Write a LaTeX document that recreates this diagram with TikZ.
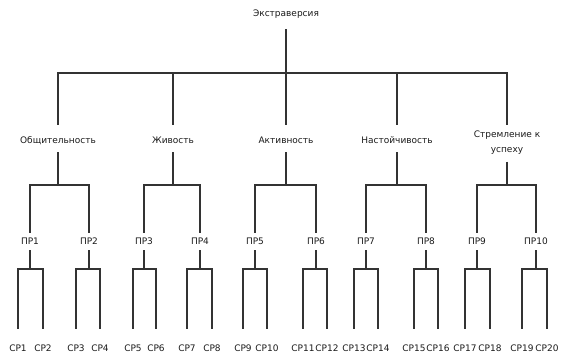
\documentclass[tikz,border=0pt]{standalone}
\usepackage{fontspec}
\setmainfont{DejaVu Sans}
\definecolor{ln}{HTML}{333333}
\definecolor{txt}{HTML}{1A1A1A}
\begin{document}
\begin{tikzpicture}[x=1pt,y=-1pt,
  lbl/.style={inner sep=0pt, text height=6.5pt, text depth=1.5pt, font=\fontsize{9}{10}\selectfont, text=txt},
  lbltwo/.style={inner sep=0pt, align=center, font=\fontsize{9}{15}\selectfont, text=txt},
  conn/.style={draw=ln, line width=1.6pt},
]
\useasboundingbox (0,0) rectangle (571,362);
\coordinate (bara) at (0,73);
\coordinate (barb) at (0,185);
\coordinate (barc) at (0,269);
% top
\node[lbl] (top) at (286,14) {Экстраверсия};
% level 2
\node[lbl] (g1) at (58,141) {Общительность};
\node[lbl] (g2) at (173,141) {Живость};
\node[lbl] (g3) at (286,141) {Активность};
\node[lbl] (g4) at (397,141) {Настойчивость};
\node[lbltwo] (g5) at (507,143) {Стремление к\\успеху};
% level 3
\foreach \i/\x in {1/30,2/89,3/144,4/200,5/255,6/316,7/366,8/426,9/477,10/536}
  \node[lbl] (p\i) at (\x,242) {ПР\i};
% level 4
\foreach \i/\x in {1/18,2/43,3/76,4/100,5/133,6/156,7/187,8/212,9/243,10/267,11/303,12/327,13/354,14/378,15/414,16/438,17/465,18/490,19/522,20/547}
  \node[lbl] (c\i) at (\x,349) {СР\i};
% connectors top -> level 2
\foreach \c in {g1,g2,g3,g4}
  \draw[conn, shorten <=11pt, shorten >=12pt] (top.south) -- (top.south |- bara) -| (\c.north);
\draw[conn, shorten <=11pt, shorten >=6pt] (top.south) -- (top.south |- bara) -| (g5.north);
% level 2 -> PR
\foreach \g/\a/\b in {g1/1/2,g2/3/4,g3/5/6,g4/7/8}{
  \draw[conn, shorten <=7pt, shorten >=5pt] (\g.south) -- (\g.south |- barb) -| (p\a.north);
  \draw[conn, shorten <=7pt, shorten >=5pt] (\g.south) -- (\g.south |- barb) -| (p\b.north);
}
\draw[conn, shorten <=7pt, shorten >=5pt] (g5.south) -- (g5.south |- barb) -| (p9.north);
\draw[conn, shorten <=7pt, shorten >=5pt] (g5.south) -- (g5.south |- barb) -| (p10.north);
% PR -> CP
\foreach \p/\a/\b in {1/1/2,2/3/4,3/5/6,4/7/8,5/9/10,6/11/12,7/13/14,8/15/16,9/17/18,10/19/20}{
  \draw[conn, shorten <=4pt, shorten >=16pt] (p\p.south) -- (p\p.south |- barc) -| (c\a.north);
  \draw[conn, shorten <=4pt, shorten >=16pt] (p\p.south) -- (p\p.south |- barc) -| (c\b.north);
}
\end{tikzpicture}
\end{document}
